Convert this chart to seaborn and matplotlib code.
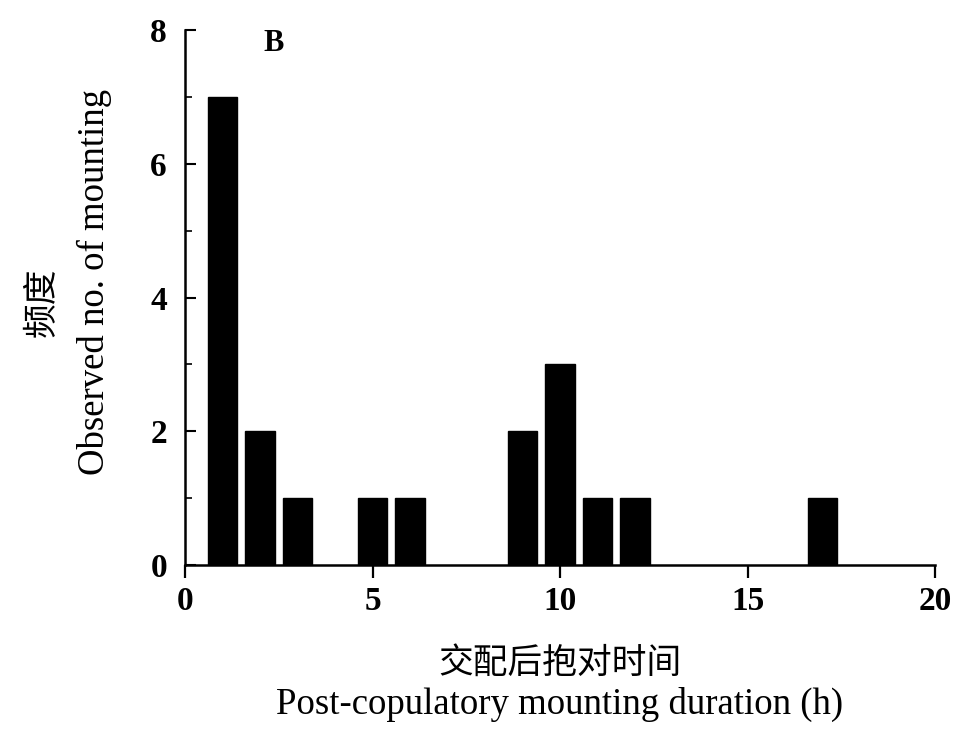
import numpy as np
import pandas as pd
import matplotlib
matplotlib.use("Agg")
import matplotlib.pyplot as plt
from matplotlib.ticker import MultipleLocator
import seaborn as sns

# Data
durations = [1, 2, 3, 5, 6, 9, 10, 11, 12, 17]
counts    = [7, 2, 1, 1, 1, 2, 3, 1, 1, 1]
x_ticks   = [0, 5, 10, 15, 20]
y_ticks   = [0, 2, 4, 6, 8]

sns.set_theme(style="ticks")
plt.rcParams["font.family"] = ["Liberation Serif", "Noto Sans CJK SC"]
plt.rcParams.update({
    "text.color": "black",
    "axes.labelcolor": "black",
    "axes.edgecolor": "black",
    "xtick.color": "black",
    "ytick.color": "black",
    "xtick.direction": "out",
    "ytick.direction": "in",
})

df = pd.DataFrame({"duration": durations, "count": counts})

fig = plt.figure(figsize=(9.56, 7.32), dpi=100)
# axes box in pixels: x 185..935, y 30..565
ax = fig.add_axes([185 / 956, (732 - 565) / 732, 750 / 956, 535 / 732])

sns.barplot(data=df, x="duration", y="count", native_scale=True,
            width=0.78, color="black", edgecolor="black", ax=ax)

ax.set_xlim(0, 20)
ax.set_ylim(0, 8)
ax.set_xticks(x_ticks)
ax.set_yticks(y_ticks)
ax.yaxis.set_minor_locator(MultipleLocator(1))
ax.tick_params(axis="x", which="major", length=9, width=1.6, labelsize=24, pad=6)
ax.tick_params(axis="y", which="major", length=8, width=1.5, labelsize=24, pad=13)
ax.tick_params(axis="y", which="minor", length=5, width=1.2)
for lab in ax.get_xticklabels() + ax.get_yticklabels():
    lab.set_fontweight("bold")

sns.despine(ax=ax)
for s in ("left", "bottom"):
    ax.spines[s].set_linewidth(1.8)

# English labels as axis labels, Chinese lines as extra text
ax.set_xlabel("Post-copulatory mounting duration (h)", fontsize=26.5)
ax.xaxis.label.set_va("center")
ax.xaxis.set_label_coords(0.5, (565 - 704) / 535)
ax.set_ylabel("Observed no. of mounting", fontsize=26.5)
ax.yaxis.label.set_va("center")
ax.yaxis.set_label_coords((94 - 185) / 750, (565 - 282) / 535)

ax.text(0.5, (565 - 664) / 535, "交配后抱对时间", transform=ax.transAxes,
        fontsize=25, ha="center", va="center")
ax.text((43 - 185) / 750, (565 - 302) / 535, "频度", transform=ax.transAxes,
        fontsize=25, ha="center", va="center", rotation=90)

ax.text(2.1, 7.8, "B", fontsize=22, fontweight="bold", ha="left", va="center")

fig.savefig("out.png", dpi=100)
